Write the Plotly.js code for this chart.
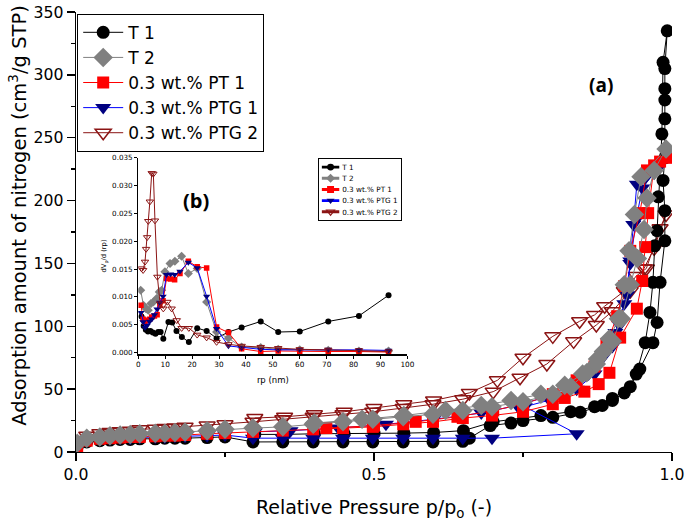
<!DOCTYPE html>
<html>
<head>
<meta charset="utf-8">
<script src="https://cdn.plot.ly/plotly-3.0.1.min.js"></script>
<style>html,body{margin:0;padding:0;background:#fff;}#chart{width:685px;height:526px;}</style>
</head>
<body>
<div id="chart"></div>
<script>
// ---------- Main isotherms: relative pressure p/po vs adsorbed amount (cm3/g STP) ----------
// each series = adsorption branch followed by desorption branch
const t1P = [0.002,0.018,0.04,0.057,0.074,0.091,0.107,0.133,0.149,0.166,0.183,0.22,0.25,0.297,0.347,0.398,0.448,0.498,0.549,0.599,0.649,0.66,0.695,0.73,0.75,0.8,0.846,0.883,0.9,0.93,0.946,0.968,0.975,0.98,0.988,0.988,0.985,0.988,0.988,0.988,0.988,0.988,0.992,
             0.985,0.983,0.977,0.975,0.971,0.968,0.963,0.955,0.94,0.92,0.9,0.87,0.83,0.78,0.7,0.65,0.6,0.55,0.5,0.45,0.4,0.35,0.3];
const t1V = [4,8,9,9.5,10,10,10.5,10.5,11,11,11,11.5,12,8,8,8,8,8,8,8,8.5,11,21,23,25,27.6,31.6,37,42.6,52,66,87,103,135,168,192,216,234,265,280,289,305,335,
             310,253,203,176,164,135,111,87,62,47,41,36,32,29,24,17,15.5,15,15,14.5,14.5,14,14];

const t2P = [0.002,0.018,0.04,0.057,0.074,0.091,0.107,0.133,0.149,0.166,0.183,0.22,0.25,0.297,0.347,0.398,0.448,0.498,0.549,0.599,0.649,0.698,0.75,0.8,0.83,0.857,0.873,0.885,0.9,0.915,0.93,0.942,0.953,0.958,0.97,0.99,
             0.948,0.937,0.928,0.92,0.91,0.895,0.875,0.85,0.82,0.78,0.73,0.68,0.62,0.55,0.48,0.4];
const t2V = [7,11,12,13,13.5,14,14.5,15,15,15.5,16,17,18,19,20,22,24,26,28,30,33,36,40,46,52,63,70,80,88,106,133,154,177,202,224,241,
             219,189,160,133,106,90,74,62,53,46,41,37,33,29,26,23];

const pt1P = [0.002,0.018,0.04,0.057,0.074,0.091,0.107,0.133,0.149,0.166,0.183,0.22,0.25,0.297,0.347,0.398,0.448,0.498,0.549,0.599,0.649,0.698,0.75,0.8,0.82,0.853,0.877,0.895,0.913,0.941,0.95,0.955,0.96,0.97,0.997,
              0.98,0.958,0.946,0.93,0.92,0.908,0.89,0.87,0.84,0.8,0.75,0.7,0.64,0.57,0.5,0.42];
const pt1V = [4,9,10.5,11,11.5,12,12,12.5,13,13,13.5,14.5,15,16,17,18,19,20,22,24,27,29,32,38,43,48,54,63,91,114,136,163,190,228,234,
              231,224,190,160,132,108,86,68,57,46,38,33,28,24,21,19];

const ptg1P = [0.002,0.018,0.04,0.057,0.074,0.091,0.107,0.133,0.149,0.166,0.183,0.22,0.25,0.297,0.347,0.398,0.448,0.498,0.549,0.599,0.649,0.698,0.84,0.753,0.8,0.84,0.87,0.9,0.912,0.925,0.93,0.935,0.941,0.955,0.975,0.995,
               0.97,0.95,0.94,0.93,0.92,0.905,0.885,0.86,0.83,0.79,0.74,0.68,0.6,0.52,0.44,0.36,0.3];
const ptg1V = [5,9,10,10.5,11,11,11.5,12,12,12.5,12.5,13,13.5,11,11,11,11,11,11,11,11,11,14.5,36,42,50,62,84,101,125,152,181,213,218,225,240,
               222,210,185,150,118,95,76,62,52,44,37,31,26,22,19,17,16];

const ptg2P = [0.002,0.018,0.04,0.057,0.074,0.091,0.107,0.133,0.149,0.166,0.183,0.22,0.25,0.297,0.347,0.398,0.448,0.498,0.549,0.599,0.649,0.7,0.745,0.79,0.835,0.873,0.9,0.93,0.953,0.97,0.99,
               0.98,0.957,0.94,0.92,0.887,0.87,0.845,0.8,0.75,0.707,0.66,0.6,0.55,0.5,0.45,0.4,0.35,0.3];
const ptg2V = [9,13,15,16,16.5,17,18,18.5,19,19.5,20,21,22,24,26,28,30,32,35,38,42,48,59,70,88,101,112,128,146,162,189,
               178,146,140,128,116,109,104,92,75,57,47,41,38,35,32,30,28,27];

// ---------- Inset: pore radius rp (nm) vs dVp/d(rp) ----------
const t1Rp  = [1.2,2.0,2.8,3.6,4.5,5.4,6.4,7.4,8.3,9.3,11.2,12.6,14.2,16.2,18.8,21.9,25.4,29.1,33.5,38.4,45.5,52,60,70.6,82,93];
const t1Dv  = [0.0065,0.0048,0.0041,0.0038,0.0039,0.0036,0.0034,0.0037,0.0037,0.0025,0.0055,0.0054,0.0039,0.0028,0.0019,0.0044,0.0039,0.0026,0.0037,0.0045,0.0056,0.0037,0.0038,0.0056,0.0066,0.0103];

const t2Rp  = [0.9,1.9,2.9,3.7,4.7,5.6,6.8,7.8,8.7,9.9,11.8,13.6,16.1,18.6,21.9,25.4,29.1,33.5,38.4,45.5,52,60,70.6,82,93];
const t2Dv  = [0.0112,0.0085,0.0079,0.0076,0.0088,0.0091,0.0097,0.0109,0.0112,0.0145,0.0160,0.0164,0.0173,0.0142,0.0151,0.0091,0.0037,0.0026,0.0010,0.0009,0.0006,0.0005,0.0004,0.0003,0.0003];

const pt1Rp = [1.0,1.8,2.5,3.3,4.2,5.0,6.0,7.0,8.0,9.2,10.5,12.0,13.5,15.5,18.6,21.9,25.4,29.1,33.5,38.4,45.5,52,60,70.6,82,93];
const pt1Dv = [0.0085,0.0060,0.0055,0.0058,0.0060,0.0064,0.0066,0.0068,0.0085,0.0093,0.0133,0.0132,0.0131,0.0142,0.0164,0.0154,0.0152,0.0046,0.0036,0.0007,0.0002,0.0003,0.0002,0.0002,0.0002,0.0001];

const ptg1Rp = [1.0,1.8,2.5,3.3,4.2,5.0,6.0,7.0,8.0,9.2,10.5,12.0,13.5,15.5,18.6,21.9,25.4,29.1,33.5,38.4,45.5,52,60,70.6,82,93];
const ptg1Dv = [0.0072,0.0055,0.0045,0.0049,0.0056,0.0060,0.0068,0.0078,0.0090,0.0101,0.0140,0.0141,0.0140,0.0146,0.0162,0.0152,0.0101,0.0043,0.0012,0.0009,0.0006,0.0005,0.0005,0.0006,0.0005,0.0004];

const ptg2Rp = [1.2,1.8,2.5,2.9,3.3,3.7,4.3,5.0,5.6,6.2,7.1,8.1,9.3,10.8,12.4,14.3,16.1,18.8,21.9,25.4,29.1,33.5,38.4,45.5,52,60,70.6,82,93];
const ptg2Dv = [0.0151,0.0148,0.0163,0.0186,0.0207,0.0236,0.0271,0.0322,0.0321,0.0237,0.0136,0.0088,0.0079,0.0091,0.0079,0.0058,0.0044,0.0044,0.0032,0.0027,0.0019,0.0015,0.0012,0.0010,0.0008,0.0006,0.0005,0.0004,0.0002];

const names = ['T 1','T 2','0.3 wt.% PT 1','0.3 wt.% PTG 1','0.3 wt.% PTG 2'];
const mainTicks = [0, 0.5, 1.0];
const mainTickText = ['0.0','0.5','1.0'];

const FONT = 'DejaVu Sans, Liberation Sans, Arial, sans-serif';
const BLACK = '#000000', GRAY = '#808080', RED = '#FF0000', BLUEL = '#0000FF', BLUEM = '#000080', BROWN = '#8B1414';

const styles = [
  {sym:'circle', mc:BLACK, lc:BLACK, size:13, isize:6},
  {sym:'diamond', mc:GRAY, lc:GRAY, size:15, isize:7},
  {sym:'square', mc:RED, lc:RED, size:12, isize:5.5},
  {sym:'triangle-down', mc:BLUEM, lc:BLUEL, size:14, isize:6.5},
  {sym:'triangle-down-open', mc:BROWN, lc:BROWN, size:14, isize:6.5}
];
const mainX = [t1P,t2P,pt1P,ptg1P,ptg2P];
const mainY = [t1V,t2V,pt1V,ptg1V,ptg2V];
const insX = [t1Rp,t2Rp,pt1Rp,ptg1Rp,ptg2Rp];
const insY = [t1Dv,t2Dv,pt1Dv,ptg1Dv,ptg2Dv];
const drawOrder = [4,0,3,2,1];

const traces = [];
drawOrder.forEach(i => {
  const s = styles[i];
  traces.push({
    x: mainX[i], y: mainY[i], xaxis:'x', yaxis:'y', type:'scatter', mode:'lines+markers',
    name: names[i], legend:'legend', legendrank: i+1,
    line:{color:s.lc, width:1},
    marker:{symbol:s.sym, size:s.size, color:s.mc, line:{color:s.mc, width: s.sym.indexOf('open')>=0 ? 1.5 : 0}},
    cliponaxis:true
  });
});
[0,1,2,3,4].forEach(i => {
  const s = styles[i];
  traces.push({
    x: insX[i], y: insY[i], xaxis:'x3', yaxis:'y3', type:'scatter', mode:'lines+markers',
    name: names[i], legend:'legend2', legendrank: i+1,
    line:{color:s.lc, width:1},
    marker:{symbol:s.sym, size:s.isize, color:s.mc, line:{color:s.mc, width: s.sym.indexOf('open')>=0 ? 1 : 0}}
  });
});

const ax = {showline:true, linecolor:'#000', linewidth:1.3, showgrid:false, zeroline:false, tickcolor:'#000', tickwidth:1.3};
const insDom = {x:[0.1045,0.556], y:[0.222,0.669]};

const layout = {
  width:685, height:526,
  margin:{l:76, r:13, t:12, b:74},
  paper_bgcolor:'#fff', plot_bgcolor:'#fff',
  font:{family:FONT, color:'#000'},
  showlegend:true,
  xaxis: Object.assign({}, ax, {
    domain:[0,1], anchor:'y', range:[0,1], tickmode:'array', tickvals:mainTicks, ticktext:mainTickText,
    ticks:'outside', ticklen:8, tickfont:{family:FONT, size:15.7},
    minor:{tickvals:[0.25,0.75], ticks:'outside', ticklen:4, tickwidth:1.3, tickcolor:'#000'},
    title:{text:'Relative Pressure p/p<sub>o</sub> (-)', font:{family:FONT, size:19}, standoff:17}
  }),
  yaxis: Object.assign({}, ax, {
    domain:[0,1], anchor:'x', range:[0,350], dtick:50, tick0:0,
    ticks:'outside', ticklen:8, tickfont:{family:FONT, size:15.7},
    minor:{dtick:25, ticks:'outside', ticklen:4, tickwidth:1.3, tickcolor:'#000'}
  }),
  xaxis2: Object.assign({}, ax, {
    overlaying:'x', side:'top', anchor:'y', range:[0,1], tickmode:'array', tickvals:mainTicks,
    ticks:'inside', ticklen:7, showticklabels:false
  }),
  yaxis2: Object.assign({}, ax, {
    overlaying:'y', side:'right', anchor:'x', range:[0,350], dtick:50, tick0:0,
    ticks:'inside', ticklen:7, showticklabels:false
  }),
  xaxis3: Object.assign({}, ax, {
    domain:insDom.x, anchor:'y3', range:[0,100], dtick:10, tick0:0, linewidth:1.2,
    ticks:'outside', ticklen:3, tickwidth:1, tickfont:{family:FONT, size:7.3},
    title:{text:'rp (nm)', font:{family:FONT, size:8.5}, standoff:8}
  }),
  yaxis3: Object.assign({}, ax, {
    domain:insDom.y, anchor:'x3', range:[-0.0003,0.035], dtick:0.005, tick0:0, tickformat:'.3f', linewidth:1.2,
    ticks:'outside', ticklen:3, tickwidth:1, tickfont:{family:FONT, size:7.2},
    title:{text:'dV<sub>p</sub>/d (rp)', font:{family:FONT, size:6.8}, standoff:4}
  }),
  xaxis4: Object.assign({}, ax, {
    overlaying:'x3', side:'top', anchor:'y3', range:[0,100], dtick:10, tick0:0, linewidth:1.2,
    ticks:'inside', ticklen:3, tickwidth:1, showticklabels:false
  }),
  yaxis4: Object.assign({}, ax, {
    overlaying:'y3', side:'right', anchor:'x3', range:[-0.0003,0.035], dtick:0.005, tick0:0, linewidth:1.2,
    ticks:'inside', ticklen:3, tickwidth:1, showticklabels:false
  }),
  legend:{x:0.002, y:0.996, xanchor:'left', yanchor:'top', bgcolor:'#fff', bordercolor:'#000', borderwidth:1,
          font:{family:FONT, size:17}, itemwidth:40, tracegroupgap:0, traceorder:'normal'},
  legend2:{x:0.406, y:0.669, xanchor:'left', yanchor:'top', bgcolor:'#fff', bordercolor:'#000', borderwidth:1.7,
          font:{family:FONT, size:12.5}, itemwidth:30, itemsizing:'constant', tracegroupgap:0, traceorder:'normal'},
  annotations:[
    {text:'Adsorption amount of nitrogen (cm<sup>3</sup>/g STP)', xref:'paper', yref:'paper', x:-0.0973, y:0.537,
     xanchor:'center', yanchor:'middle', textangle:-90, showarrow:false, font:{family:FONT, size:19.5}},
    {text:'<b>(a)</b>', xref:'paper', yref:'paper', x:0.881, y:0.833, xanchor:'center', yanchor:'middle',
     showarrow:false, font:{family:'Open Sans, sans-serif', size:19}},
    {text:'<b>(b)</b>', xref:'paper', yref:'paper', x:0.201, y:0.572, xanchor:'center', yanchor:'middle',
     showarrow:false, font:{family:'Open Sans, sans-serif', size:20}}
  ]
};

function tidy(){
  const g = document.querySelector('g.legend2');
  if(g){
    const t = g.getAttribute('transform') || '';
    if(t.indexOf('scale') < 0) g.setAttribute('transform', t + ' scale(0.58)');
  }
}
const gd = document.getElementById('chart');
Plotly.newPlot(gd, traces, layout, {staticPlot:true, displayModeBar:false}).then(() => {
  tidy();
  gd.on && gd.on('plotly_afterplot', tidy);
});
</script>
</body>
</html>
